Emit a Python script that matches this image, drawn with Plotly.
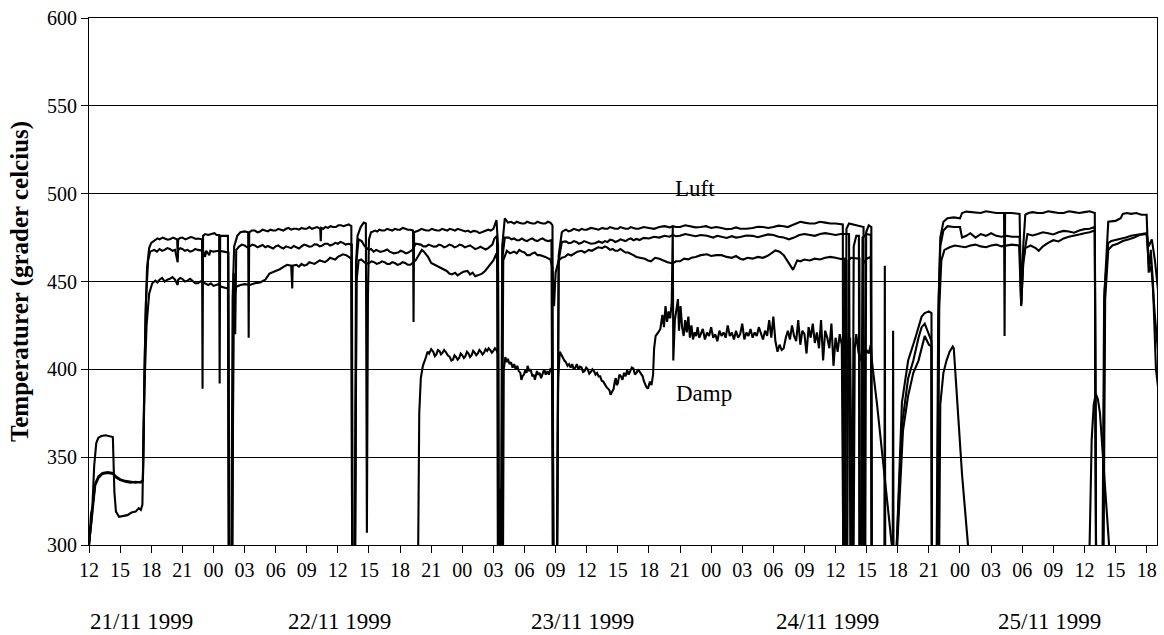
import pandas as pd
import plotly.graph_objects as go

START = pd.Timestamp("1999-11-21 12:00")

# [hours after 21/11 1999 12:00, temperature]; values below 300 fall off the axis
luft_top = [
 [0.0,300],[0.3,318],[0.5,345],[0.7,358],[0.9,361],[1.2,362],[1.6,362.5],[2.0,362],[2.3,361.5],[2.45,330],
 [2.6,319],[2.9,316],[3.3,316.5],[3.7,317],[4.1,318.5],[4.5,319],[4.8,321],[5.0,320],[5.15,323],[5.3,380],
 [5.45,430],[5.6,458],[5.8,469],[6.0,472],[6.3,473.5],[6.6,474.5],[6.8,474],[7.1,475],[7.3,474.5],[7.6,473.8],[7.8,474],
 [8.1,475],[8.3,474.5],[8.5,474],[8.55,466],[8.6,474],[8.8,474.8],[9.0,475],[9.3,474],[9.5,474.5],[9.8,475.3],[10.0,475],
 [10.3,474.2],[10.5,474.5],[10.9,474],[10.95,389],[11.0,476],[11.2,477],[11.5,476.5],[11.8,477],[12.1,477.5],[12.3,476.5],
 [12.55,476.5],[12.6,392],[12.65,476],[13.0,476],[13.4,476],[13.5,250],[13.7,250],[13.85,440],
 [14.0,470],[14.3,476],[14.6,478],[15.0,478.5],[15.35,478],[15.4,418],[15.45,478],[15.7,479],[16.0,479],[16.25,478],
 [16.5,478.5],[16.75,479.5],[17.0,479],[17.25,478.5],[17.5,479.5],[17.75,479],[18.0,479],[18.25,480],[18.5,479.5],
 [18.75,479],[19.0,480],[19.25,480.5],[19.5,479.5],[19.75,480],[20.0,480],[20.25,479.5],[20.5,480.5],[20.75,480],
 [21.0,480],[21.25,481],[21.5,480],[21.75,480.5],[22.0,481],
 [22.3,480],[22.35,473],[22.4,480.5],[22.6,480],[22.8,481],[23.05,480.5],[23.3,481.5],[23.55,481],[23.8,481],[24.05,482],
 [24.3,482],[24.55,481.5],[24.8,482],[25.05,482.5],[25.3,481.5],[25.4,250],
 [25.6,250],[25.75,460],[25.9,476],[26.2,481],[26.5,483.5],[26.7,483],[26.8,307],[26.9,440],[27.0,474],[27.2,478],
 [27.6,479],[27.8,478.5],[28.0,479.5],[28.25,479],[28.5,479],[28.75,480],[29.0,479.5],[29.25,479],[29.5,480],[29.75,479.5],
 [30.0,479.5],[30.25,480.5],[30.5,480],[30.75,479.5],[31.0,479.5],[31.25,479],[31.3,427],
 [31.35,478],[31.8,479],[32.05,480],[32.3,479.5],[32.55,479],[32.8,479],[33.05,480],[33.3,479.5],[33.55,479],[33.8,479],
 [34.05,480],[34.3,479.5],[34.55,479],[34.8,480],[35.05,479.5],[35.3,479],[35.55,480],[35.8,479.5],
 [36.05,479],[36.3,478.5],[36.55,479],[36.8,478],[37.1,478.8],[37.4,478.5],[37.65,477.5],[37.9,478],[38.2,479],[38.5,479.5],
 [38.75,479],[39.0,480],[39.3,485],[39.45,470],[39.5,250],[39.7,250],
 [39.85,470],[40.1,486],[40.4,483.5],[40.7,484],[41.0,483],[41.25,484],[41.5,483.5],[41.75,483],[42.0,483],[42.25,484],
 [42.5,483.5],[42.75,483],[43.0,483],[43.25,484],[43.5,483.5],[43.75,483],[44.0,483],[44.25,484],
 [44.5,483.5],[44.7,482],[44.8,250],[45.1,250],[45.3,465],[45.6,478],[45.8,479],[46.0,479.5],[46.25,478.5],[46.5,479],
 [46.75,480],[47.0,479.5],[47.25,479],[47.5,480],[47.75,479.5],[48.0,479.5],[48.4,480.5],[48.8,480],[49.15,479.5],
 [49.5,480.5],[49.75,480],[50.0,480],[50.25,481],[50.5,480.5],[50.75,480],[51.0,480],[51.25,481],[51.5,480.5],
 [51.75,480],[52.0,480],[52.25,481],[52.5,480.5],[52.75,480],[53.0,480],
 [53.5,481],[54.0,480.5],[54.5,480],[55.0,481],[55.5,481.5],[56.0,480.8],[56.3,481.5],[56.6,481],[57.0,481],[57.5,482],
 [58.0,481.5],[58.5,480.8],[59.0,481],[59.5,481.5],[60.0,480.5],[60.5,481],[61.0,480.5],[61.5,479.8],[62.0,480],
 [62.4,480.8],[62.8,480],[63.4,480],[64.0,480.5],[64.5,481.2],
 [65.0,481],[65.5,480.5],[66.0,481],[66.5,481.8],[67.0,481.5],[67.4,481],[67.8,482],[68.3,483.5],[68.6,484],[69.0,483.5],
 [69.5,483],[70.0,483],[70.5,484],[71.0,483.5],[71.5,483],[72.0,483],
 [72.7,482.5],[72.75,250],[72.9,250],[73.05,480],[73.3,483],[74.0,482],[74.7,481],[74.75,250],[74.85,250],[74.95,478],
 [75.2,482],[75.45,481],[75.5,250],[77.85,250],[77.9,300],[78.4,381],[79.0,405],[79.7,418],[80.3,430],[80.6,432],
 [81.0,433],[81.25,432],[81.3,250],[81.7,250],[81.9,430],[82.1,475],[82.4,484],[82.8,486],[83.4,486.5],[84.0,486],
 [84.2,489],[84.6,489.8],[85.0,489.5],[85.5,489],[86.0,489],[86.5,490],[87.0,489.5],[87.5,489],[88.0,489],[88.25,489],
 [88.3,419],[88.35,489],[89.0,489],[89.75,488.5],
 [89.9,437],[90.1,470],[90.3,488],[90.6,489],[91.0,489.5],[91.5,489],[92.0,489],[92.5,490],[93.0,489.5],[93.5,489],
 [94.0,489],[94.5,490],[95.0,489.5],[95.5,489],[96.0,489.5],[96.5,490],[97.0,489],
 [97.15,250],[97.7,250],[97.9,440],[98.3,484],[99.0,484.5],[99.5,486],[99.7,488.5],[100.1,489],[100.5,488.5],[101.0,489],
 [101.5,488],[102.0,488],
 [102.2,455],[102.4,468],[102.6,450],[102.9,400],[103.1,390],
]

luft_mid = [
 [0.0,300],[0.2,318],[0.35,322],[0.6,335],[0.9,339],[1.3,341],[1.8,341.5],[2.3,341],[2.6,339],[3.0,337.5],
 [3.5,336.5],[4.0,336],[4.5,335.5],[5.0,336],[5.2,337],[5.35,400],[5.5,440],[5.7,462],[5.9,467],[6.3,468],
 [6.55,467],[6.8,468.5],[7.05,467.5],[7.3,468],[7.55,469],[7.8,468.5],[8.05,467.5],[8.3,468],[8.55,461],[8.6,468],
 [8.8,469],[9.0,468.5],[9.25,467.5],[9.5,468],[9.75,467],[10.0,467.5],[10.25,468.5],[10.5,468],
 [11.0,467.5],[11.2,464],[11.3,467.5],[11.6,465],[11.7,467.5],[12.0,467],[12.5,467.5],[13.0,467],[13.45,466.5],[13.55,250],
 [13.8,250],[13.95,455],[14.1,420],[14.2,468],[14.5,470],[14.75,471],[15.0,470.5],[15.25,469.5],[15.5,470],[15.75,471],
 [16.0,470.5],[16.25,469.5],[16.5,470],[16.75,470.8],[17.0,469.5],[17.25,470.2],
 [17.5,469.5],[17.75,468.8],[18.0,470],[18.25,470.5],[18.5,469.5],[18.75,468.8],[19.0,470],[19.25,469.5],[19.5,469],
 [19.75,470.2],[20.0,469.5],[20.25,468.8],[20.5,470],[20.75,471],[21.0,470.5],[21.25,469.8],[21.5,470],[21.75,471.2],
 [22.0,471],[22.25,470],[22.5,470.5],[22.75,471.5],[23.0,471.5],[23.25,470.5],[23.5,471],[23.75,472],[24.0,471.5],
 [24.25,472.5],[24.5,472],[24.75,471],[25.0,471.5],[25.35,471],[25.45,250],[25.65,250],[25.8,462],
 [26.0,474],[26.3,473],[26.55,470.5],[26.8,469],[27.0,468],[27.2,468.5],[27.45,467],[27.7,468],[28.1,466.8],[28.5,467.5],
 [28.75,468.2],[29.0,467],[29.4,466],[29.8,466.5],[30.05,467.5],[30.3,467],[30.55,466],[30.8,466.5],
 [31.2,468],[31.5,471.5],[32.0,471],[32.25,470],[32.5,470],[32.75,471],[33.0,470.5],[33.25,469.8],[33.5,470],[33.75,471],
 [34.0,470.5],[34.25,469.5],[34.5,470],[34.75,471],[35.0,470.5],[35.25,469.5],[35.5,470],
 [35.75,471],[36.0,470.5],[36.25,469.5],[36.5,470],[36.75,470.5],[37.0,469.5],[37.25,468.5],[37.5,469],[37.75,469.8],
 [38.0,469],[38.25,468.2],[38.5,469],[38.9,471],[39.1,474.5],[39.35,476],[39.45,250],
 [39.75,250],[39.9,465],[40.1,475],[40.5,475],[40.75,474],[41.0,474.5],[41.25,473.5],[41.5,473.5],[41.75,474.5],
 [42.0,473.5],[42.25,473],[42.5,474],[42.75,474.5],[43.0,473.5],[43.25,473],[43.5,474],[43.75,474.5],
 [44.0,473.5],[44.3,473],[44.6,473.5],[44.75,250],[45.1,250],[45.3,462],[45.6,472.5],[46.0,472.8],[46.25,471.8],
 [46.5,472],[46.75,473],[47.0,472.5],[47.25,471.5],[47.5,472],[47.75,473],
 [48.0,472.5],[48.4,471.5],[48.8,471.8],[49.15,472.8],[49.5,472],[49.75,473],[50.0,472.5],[50.25,473.8],[50.5,473.5],
 [50.75,472.5],[51.0,473],[51.25,474],[51.5,473.5],[51.75,473],[52.0,474],[52.25,474.5],[52.5,473.5],[52.8,474.2],
 [53.1,473.6],[53.5,474.8],
 [54.0,474.5],[54.5,475.5],[55.0,475],[55.5,476],[56.0,475.5],[56.3,476.5],[56.6,475.8],[57.0,476],[57.5,477],
 [58.0,476.5],[58.5,475.8],[59.0,476.5],[59.6,476],[60.2,475],[60.6,476],[61.0,475.5],[61.5,474.8],[62.0,475.8],
 [62.4,475],[62.8,475.3],[63.4,476.2],[64.0,476],[64.5,475.2],[65.0,476],
 [65.5,476.8],[66.0,476.5],[66.5,475.5],[67.0,475],[67.5,474],[68.0,475],[68.5,476.5],[69.0,477],[69.5,476.5],
 [70.0,476],[70.5,477],[71.0,477.5],[71.5,477],[72.0,476.5],[72.5,477],[73.3,477],
 [73.45,250],[73.6,250],[73.75,470],[74.0,476],[74.25,476],[74.3,250],[74.45,250],[74.6,475],[75.0,477],[75.4,476.5],
 [75.5,250],[77.85,250],[77.9,300],[78.4,368],[79.0,395],[79.5,405],[80.0,418],[80.3,424],[80.6,426],[81.0,420],
 [81.25,416],[81.3,250],[81.75,250],[81.95,440],[82.1,470],[82.4,479],[82.8,481.5],[83.4,481],[84.0,481],[84.2,475],
 [84.6,476],[85.0,477.5],[85.5,475],[86.0,477],[86.5,476],[87.0,477.5],[87.5,476],[88.0,475.5],[88.5,476],[89.0,475.5],
 [89.75,475.5],[89.9,436],[90.1,462],[90.5,477],[91.0,476.2],[91.5,477],[92.0,478],[92.5,477.5],[93.0,476.8],
 [93.5,478],[94.0,478.8],[94.5,478.5],[95.0,477.8],[95.5,479],[96.0,479.8],[96.5,480],
 [97.0,481],[97.15,250],[97.75,250],[97.95,445],[98.3,472],[98.6,473],[99.0,473.5],[99.5,474],[100.0,475],[100.5,476],
 [101.0,476.5],[101.5,477],[102.0,477.5],[102.2,470],[102.5,474],[102.8,462],[103.1,445],
]

luft_low = [
 [0.0,300],[0.25,315],[0.4,325],[0.6,334],[0.9,338],[1.3,340.5],[1.8,341],[2.3,340.5],[2.6,338.5],[3.0,337],
 [3.5,336],[4.0,335.5],[4.5,336],[5.0,335.5],[5.2,336.5],[5.35,390],[5.55,425],[5.8,443],[6.1,449],[6.4,450.5],
 [6.6,449.5],[6.8,451],[7.05,452],[7.3,450],[7.55,451],[7.8,451.5],[8.05,452.5],[8.3,451],[8.55,448],[8.6,451],
 [8.8,452],[9.0,451.5],[9.25,450],[9.5,450.5],[9.75,451.5],[10.0,450],[10.25,449],[10.5,449],
 [10.75,450],[11.0,449.5],[11.25,448.5],[11.5,448],[11.75,449],[12.0,447.5],[12.25,448],[12.5,448.5],[12.75,447],
 [13.0,446.5],[13.4,446],[13.5,250],[13.75,250],[13.95,440],[14.2,447],
 [14.6,448],[15.0,448.5],[15.5,448],[16.0,449],[16.5,449.5],[17.0,451],[17.4,454.5],[18.0,456],[18.4,457],[18.8,458.5],
 [19.1,459.5],[19.5,459],[19.6,446],[19.65,459],[20.0,459.5],[20.25,458.5],[20.5,460],[20.75,459],[21.0,459.5],
 [21.25,461],[21.5,460.5],[21.75,460],[22.0,461],[22.25,462],[22.5,461.5],
 [22.75,461],[23.0,462],[23.25,463.5],[23.5,463],[23.75,462.5],[24.0,464],[24.25,465],[24.5,465.5],[24.8,465],[25.05,463.8],
 [25.3,463],[25.4,250],[25.6,250],[25.8,450],[26.0,462],
 [26.25,462.5],[26.5,461],[26.75,460],[27.0,460.5],[27.25,461.5],[27.5,461],[27.75,460],[28.0,460.5],[28.25,461.5],
 [28.5,461],[28.75,460],[29.0,460],[29.25,461],[29.5,460.5],[29.75,459.5],[30.0,460],[30.25,461],[30.5,460.5],
 [30.75,459.5],[31.0,459.5],
 [31.5,462],[31.9,466],[32.1,468],[32.3,467],[32.7,464],[33.0,460.5],[33.5,459],[34.0,457.5],[34.5,456],[34.75,454.5],
 [35.0,454],[35.3,455],[35.55,453.5],
 [35.8,454.5],[36.1,455.5],[36.5,456],[36.75,454],[37.0,455],[37.25,453],[37.5,453.5],[37.9,454.5],[38.2,456],[38.5,458.5],
 [39.0,462],[39.3,466],[39.45,455],[39.55,250],
 [39.75,250],[39.95,462],[40.3,467.5],[40.6,466],[41.0,467],[41.25,466],[41.5,468],[41.75,467],[42.0,466.5],[42.25,465],
 [42.5,465],[42.75,466],[43.0,466.5],[43.25,465],[43.5,465],[43.75,464.5],[44.0,464],
 [44.5,462.5],[44.7,458],[44.85,436],[45.0,455],[45.3,462],[45.6,463.5],[45.9,464],[46.2,465.5],[46.5,464.8],[46.8,466],
 [47.1,467],[47.5,467.5],[47.8,466.5],[48.2,468],
 [48.5,467.5],[48.8,468.5],[49.1,469.5],[49.5,469],[49.75,470],[50.0,469.3],[50.25,468],[50.5,468.5],[50.75,467.5],
 [51.0,467.5],[51.25,468.5],[51.5,467.5],[51.75,466.5],[52.0,466.5],[52.25,465.5],[52.5,465],[52.8,464],[53.1,463.5],
 [53.6,463],
 [53.9,462],[54.2,461.5],[54.6,463.5],[55.0,463],[55.4,462],[55.8,461],[56.3,460.3],[56.6,461.5],[57.0,461.5],
 [57.4,463],[57.8,462.6],[58.1,463.5],[58.5,464],[59.0,465],[59.6,465.5],[60.0,464.5],[60.5,465],[61.0,465],
 [61.5,464],[62.0,463.5],[62.4,464.5],[62.8,463],
 [63.1,462.5],[63.5,463.5],[64.0,463],[64.5,464],[65.0,463.5],[65.4,464.5],[65.8,466],[66.2,467.7],[66.6,467],[67.0,465],
 [67.4,461.3],[67.9,456.6],[68.3,462],
 [68.6,461.5],[69.0,462.5],[69.5,462],[70.0,463],[70.5,462.5],[71.0,463.5],[71.5,464],[72.0,463.5],[72.5,462.8],
 [72.9,463],[72.95,250],[73.1,250],[73.25,462],[73.5,463.5],[74.3,463],
 [74.35,250],[74.5,250],[74.65,460],[75.0,463],[75.4,464],[75.5,250],[76.7,250],[76.75,459],[76.8,250],[77.5,250],
 [77.55,422],[77.6,250],[77.95,300],[78.5,365],[79.0,385],[79.5,398],[80.0,405],[80.3,412],[80.6,419],[81.0,414],
 [81.25,413],[81.3,250],[81.8,250],[82.0,435],[82.2,462],[82.5,468],[83.0,469.5],[83.5,470.5],[84.0,470],[84.5,469.5],
 [85.0,470.5],[85.5,471],[86.0,470],[86.5,469.5],
 [87.0,470.5],[87.5,471],[88.0,470],[88.5,470.5],[89.0,471],[89.7,470.5],[89.9,437],[90.1,460],[90.3,469],[90.8,470.5],
 [91.3,469],[91.6,467.5],
 [92.0,470],[92.5,472],[93.0,473.5],[93.5,472.8],[94.0,474.5],[94.5,475.5],[95.0,476],[95.5,476.8],[96.0,477.5],
 [96.5,478],[97.0,479],[97.15,250],[97.8,250],[98.0,440],
 [98.3,468],[98.7,470.5],[99.2,471.5],[99.7,473],[100.3,474],[100.8,475],[101.3,476.5],[101.8,477],[102.0,477],[102.2,460],
 [102.5,455],[102.8,430],[103.1,410],
]

damp = [
 [0.0,250],[31.7,250],[31.75,300],[31.85,375],[32.0,395],[32.2,402],[32.5,407],[32.65,410],[32.8,409],[33.0,411.5],
 [33.2,410],[33.35,407.5],[33.5,408.5],[33.65,411],
 [33.8,410.5],[33.95,408.5],[34.1,409.5],[34.25,411],[34.4,410],[34.6,408],[34.8,407],[34.95,405],[35.1,405.5],[35.25,408],
 [35.4,407],[35.55,405.5],[35.7,406.5],[35.85,409],[36.0,408],[36.15,406.5],[36.3,407.5],[36.45,410],[36.6,409],
 [36.75,407],[36.9,408],[37.05,410.5],[37.2,409.5],[37.35,408],[37.5,409],[37.65,411],[37.8,410],[37.95,408.5],
 [38.1,409.5],[38.25,411.5],[38.4,410.5],[38.55,412],[38.7,411],[38.85,409.5],[39.0,410.5],[39.15,412],[39.3,411],[39.45,409],
 [39.5,250],[39.65,332],[39.7,250],[39.9,250],[40.0,400],[40.15,407],[40.3,404],[40.4,406],[40.55,403],[40.7,404],
 [40.85,401],[41.0,403],[41.15,400],[41.3,402],[41.45,399],[41.6,398],[41.7,394],[41.8,396],[41.95,397],[42.1,400],
 [42.2,398],[42.3,402],[42.45,399],[42.6,400],[42.75,396],[42.9,397],[43.0,394],[43.1,396],[43.2,399],[43.3,397],
 [43.45,398],[43.6,395],[43.75,398],[43.9,400],[44.05,397],[44.2,399],[44.35,397],[44.5,400],
 [44.7,399],[44.85,250],[45.1,250],[45.25,395],[45.4,410],[45.55,408],[45.7,407],[45.85,405],[46.0,404],[46.15,402],
 [46.3,403],[46.45,401],[46.6,403],[46.75,400],[46.9,401],[47.05,403],[47.2,400],[47.35,401.5],[47.5,401],[47.65,398.5],
 [47.8,399],[47.95,401],[48.1,400],[48.25,397.5],[48.4,398.5],[48.55,400],[48.7,399],[48.85,397],[49.0,398],[49.15,396],
 [49.3,396],[49.45,393.5],[49.6,393],[49.75,391],[49.9,390],[50.05,389],[50.2,388],[50.3,385.5],[50.4,386.5],[50.5,388],
 [50.6,389],[50.7,393],[50.8,395],[50.9,391],[51.0,392],[51.15,397],[51.3,396],[51.45,394],[51.6,398],[51.75,396],
 [51.9,399.5],[52.05,397],[52.2,399],[52.35,401],[52.5,400.5],[52.65,397],[52.8,398],[52.95,400],[53.1,398.7],[53.25,397],
 [53.4,396],[53.5,393.5],[53.6,392],[53.75,390],[53.9,389],[54.0,391],[54.1,393],[54.25,391],[54.4,397],[54.5,412],
 [54.65,419],[54.9,421],[55.1,423],[55.3,431],[55.45,424],[55.6,436],[55.75,427],[55.9,433],[56.05,429],[56.2,438],
 [56.3,481],[56.35,405],[56.5,428],[56.65,434],[56.8,440],[56.9,422],[57.05,436],[57.2,424],[57.35,419],[57.5,428],
 [57.65,421],[57.8,430],[57.95,418],[58.1,425],[58.25,417],[58.4,421],[58.55,419],[58.7,424],[58.85,418],[59.0,420],
 [59.2,423],[59.4,417],[59.6,421],[59.8,419],[60.0,424],[60.2,418],[60.4,420],[60.6,416],[60.8,422],[61.0,419],
 [61.2,421],[61.4,418],[61.6,425],[61.8,419],[62.0,421],[62.2,417],[62.4,422],[62.6,418],[62.8,420],[63.0,426],
 [63.2,417],[63.4,421],[63.6,419],[63.8,423],[64.0,418],[64.2,421],[64.4,419],[64.6,424],[64.8,420],[65.0,417],
 [65.2,422],[65.4,419],[65.6,428],[65.8,418],[66.0,430],[66.2,416],[66.4,410],[66.6,414],[66.8,411],[67.0,412],
 [67.2,418],[67.4,422],[67.6,417],[67.8,425],[68.0,419],[68.2,416],[68.4,428],[68.6,414],[68.8,422],[69.0,420],
 [69.2,409],[69.4,424],[69.6,418],[69.8,426],[70.0,415],[70.2,421],[70.4,412],[70.6,428],[70.8,405],[71.0,422],
 [71.2,418],[71.4,412],[71.6,426],[71.8,402],[72.0,418],[72.2,410],[72.4,420],[72.6,414],[72.8,250],[72.9,250],
 [73.0,420],[73.2,406],[73.4,418],[73.55,250],[73.7,250],[73.85,412],[74.0,420],[74.2,410],[74.4,405],[74.6,412],
 [74.8,408],[75.0,411],[75.2,409],[75.4,414],[75.5,405],[76.0,380],[76.5,352],[77.0,325],[77.6,290],[77.8,250],
 [81.9,250],[82.0,300],[82.1,380],[82.4,398],[82.7,405],[83.0,410],[83.3,413],[83.4,412],[83.7,383],[84.2,340],
 [84.8,298],[85.0,250],[96.4,250],[96.5,300],[96.7,360],[96.9,380],[97.1,386],[97.3,383],[97.5,375],[98.0,330],
 [98.4,298],[98.6,250],[103.1,250],
]

series = [luft_top, luft_mid, luft_low, damp]

day_labels = ["21/11 1999", "22/11 1999", "23/11 1999", "24/11 1999", "25/11 1999"]
day_label_hours = [5.1, 24.2, 47.6, 71.2, 92.6]

FONT = "Liberation Serif, Times New Roman, serif"

fig = go.Figure()
for s in series:
    x = [START + pd.Timedelta(hours=p[0]) for p in s]
    y = [p[1] for p in s]
    fig.add_trace(go.Scatter(x=x, y=y, mode="lines",
                             line=dict(color="black", width=2.1),
                             showlegend=False, hoverinfo="skip"))

for lab, h in zip(day_labels, day_label_hours):
    fig.add_annotation(x=START + pd.Timedelta(hours=h), y=-0.146, xref="x", yref="paper",
                       xanchor="center", yanchor="middle",
                       text=lab, showarrow=False, font=dict(family=FONT, size=23, color="black"))

fig.add_annotation(x=START + pd.Timedelta(hours=58.4), y=503, text="Luft", showarrow=False,
                   xanchor="center", yanchor="middle",
                   font=dict(family=FONT, size=23, color="black"))
fig.add_annotation(x=START + pd.Timedelta(hours=59.3), y=386, text="Damp", showarrow=False,
                   xanchor="center", yanchor="middle",
                   font=dict(family=FONT, size=23, color="black"))

fig.update_layout(
    width=1164, height=635,
    margin=dict(l=89, r=7, t=18, b=90),
    paper_bgcolor="white", plot_bgcolor="white",
    font=dict(family=FONT, size=20, color="black"),
)
fig.update_xaxes(
    type="date",
    range=[START, START + pd.Timedelta(hours=103)],
    tick0=START, dtick=3 * 3600 * 1000, tickformat="%H",
    ticks="outside", ticklen=7, tickcolor="black", tickwidth=1,
    showline=True, linecolor="black", linewidth=1, mirror=True,
    showgrid=False, zeroline=False,
    tickfont=dict(family=FONT, size=20, color="black"),
)
fig.update_yaxes(
    range=[300, 600], dtick=50,
    ticks="outside", ticklen=7, tickcolor="black", tickwidth=1,
    showline=True, linecolor="black", linewidth=1, mirror=True,
    showgrid=True, gridcolor="black", gridwidth=1, zeroline=False,
    tickfont=dict(family=FONT, size=20, color="black"),
    title=dict(text="<b>Temperaturer (grader celcius)</b>", font=dict(family=FONT, size=25, color="black"),
               standoff=11),
)

fig.write_html("out.html")
